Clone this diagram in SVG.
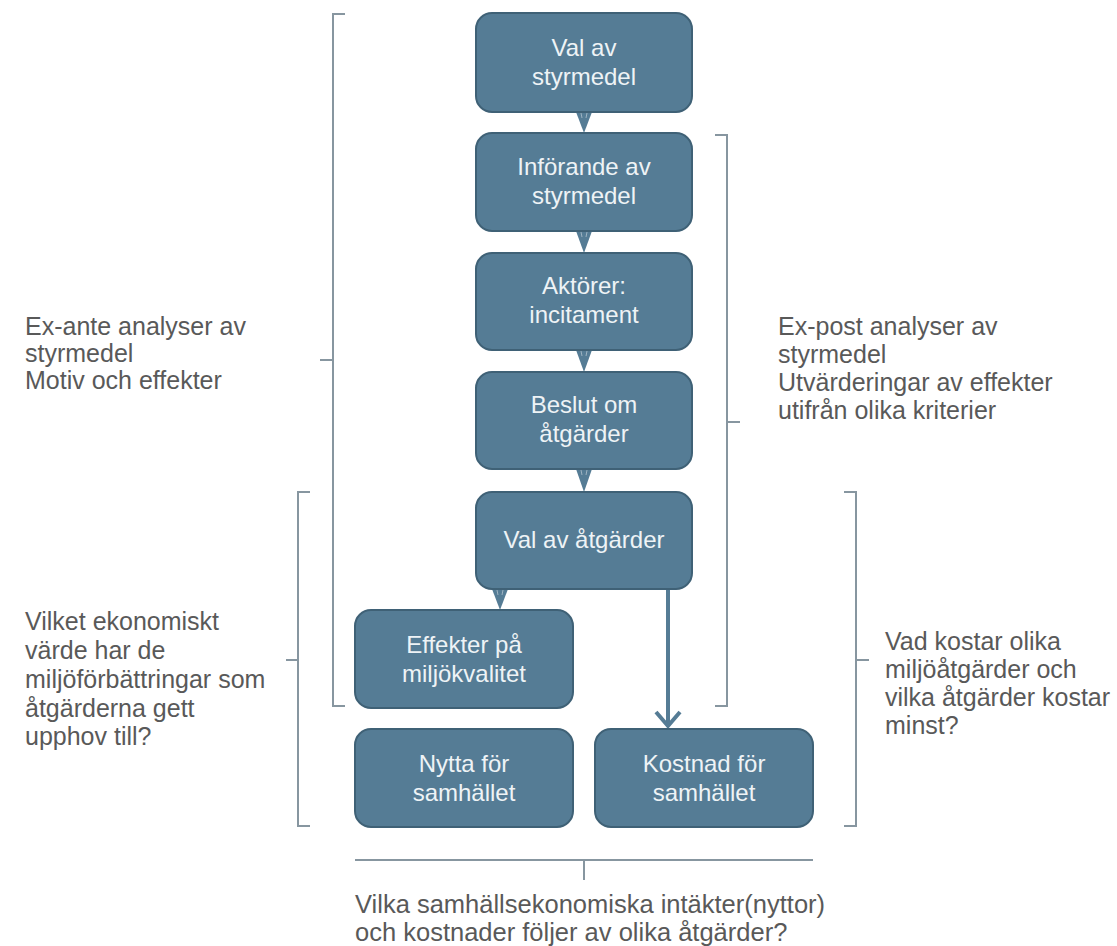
<svg xmlns="http://www.w3.org/2000/svg" width="1117" height="946" viewBox="0 0 1117 946">
<style>
.box{fill:#557c95;stroke:#3f6176;stroke-width:2}
.bt{font-family:"Liberation Sans",Arial,sans-serif;font-size:24px;fill:#eef3f6;text-anchor:middle}
.st{font-family:"Liberation Sans",Arial,sans-serif;font-size:25px;fill:#595959}
.br{fill:none;stroke:#8796a0;stroke-width:2}
.ah{fill:#557c95}
.ahl{stroke:#9fb4c2;stroke-width:1;fill:none}
.ln{stroke:#557c95;stroke-width:4;fill:none;stroke-linejoin:miter}
</style>
<rect width="1117" height="946" fill="#ffffff"/>
<g id="connectors">
<polygon class="ah" points="576,112 592,112 584,133"/>
<path class="ahl" d="M581,113 L582,118 M587,113 L586,118"/>
<polygon class="ah" points="576,231 592,231 584,253"/>
<path class="ahl" d="M581,232 L582,237 M587,232 L586,237"/>
<polygon class="ah" points="576,350 592,350 584,372"/>
<path class="ahl" d="M581,351 L582,356 M587,351 L586,356"/>
<polygon class="ah" points="576,469 592,469 584,492"/>
<path class="ahl" d="M581,470 L582,475 M587,470 L586,475"/>
<polygon class="ah" points="492,589 508,589 500,610"/>
<path class="ahl" d="M497,590 L498,595 M503,590 L502,595"/>
<path class="ln" d="M668,589 L668,726"/>
<path class="ln" d="M656,712 L668,726 L680,712"/>
</g>
<g id="n1"><rect class="box" x="476" y="13" width="216" height="99" rx="16"/><text class="bt" x="584" y="56">Val av</text><text class="bt" x="584" y="85">styrmedel</text></g>
<g id="n2"><rect class="box" x="476" y="133" width="216" height="98" rx="16"/><text class="bt" x="584" y="175">Införande av</text><text class="bt" x="584" y="204">styrmedel</text></g>
<g id="n3"><rect class="box" x="476" y="253" width="216" height="97" rx="16"/><text class="bt" x="584" y="294">Aktörer:</text><text class="bt" x="584" y="323">incitament</text></g>
<g id="n4"><rect class="box" x="476" y="372" width="216" height="97" rx="16"/><text class="bt" x="584" y="413">Beslut om</text><text class="bt" x="584" y="442">åtgärder</text></g>
<g id="n5"><rect class="box" x="476" y="492" width="216" height="97" rx="16"/><text class="bt" x="584" y="548">Val av åtgärder</text></g>
<g id="n6"><rect class="box" x="355" y="610" width="218" height="98" rx="16"/><text class="bt" x="464" y="653">Effekter på</text><text class="bt" x="464" y="682">miljökvalitet</text></g>
<g id="n7"><rect class="box" x="355" y="729" width="218" height="98" rx="16"/><text class="bt" x="464" y="772">Nytta för</text><text class="bt" x="464" y="801">samhället</text></g>
<g id="n8"><rect class="box" x="595" y="729" width="218" height="98" rx="16"/><text class="bt" x="704" y="772">Kostnad för</text><text class="bt" x="704" y="801">samhället</text></g>
<g id="brackets">
<path class="br" d="M345,14 L333,14 L333,706 L345,706 M333,360 L320,360"/>
<path class="br" d="M715,135 L727,135 L727,706 L715,706 M727,422 L740,422"/>
<path class="br" d="M310,492 L298,492 L298,826 L310,826 M298,660 L286,660"/>
<path class="br" d="M844,492 L856,492 L856,826 L844,826 M856,660 L869,660"/>
<path class="br" d="M355,860 L813,860 M584,860 L584,880"/>
</g>
<g id="labels">
<text class="st" x="25" y="335">Ex-ante analyser av</text>
<text class="st" x="25" y="362">styrmedel</text>
<text class="st" x="25" y="389">Motiv och effekter</text>
<text class="st" x="778" y="335">Ex-post analyser av</text>
<text class="st" x="778" y="363">styrmedel</text>
<text class="st" x="778" y="391">Utvärderingar av effekter</text>
<text class="st" x="778" y="419">utifrån olika kriterier</text>
<text class="st" x="25" y="630">Vilket ekonomiskt</text>
<text class="st" x="25" y="659">värde har de</text>
<text class="st" x="25" y="688">miljöförbättringar som</text>
<text class="st" x="25" y="717">åtgärderna gett</text>
<text class="st" x="25" y="745">upphov till?</text>
<text class="st" x="885" y="650">Vad kostar olika</text>
<text class="st" x="885" y="678">miljöåtgärder och</text>
<text class="st" x="885" y="706">vilka åtgärder kostar</text>
<text class="st" x="885" y="734">minst?</text>
<text class="st" x="355" y="913" style="font-size:25.5px">Vilka samhällsekonomiska intäkter(nyttor)</text>
<text class="st" x="355" y="941" style="font-size:25.5px">och kostnader följer av olika åtgärder?</text>
</g>
</svg>
